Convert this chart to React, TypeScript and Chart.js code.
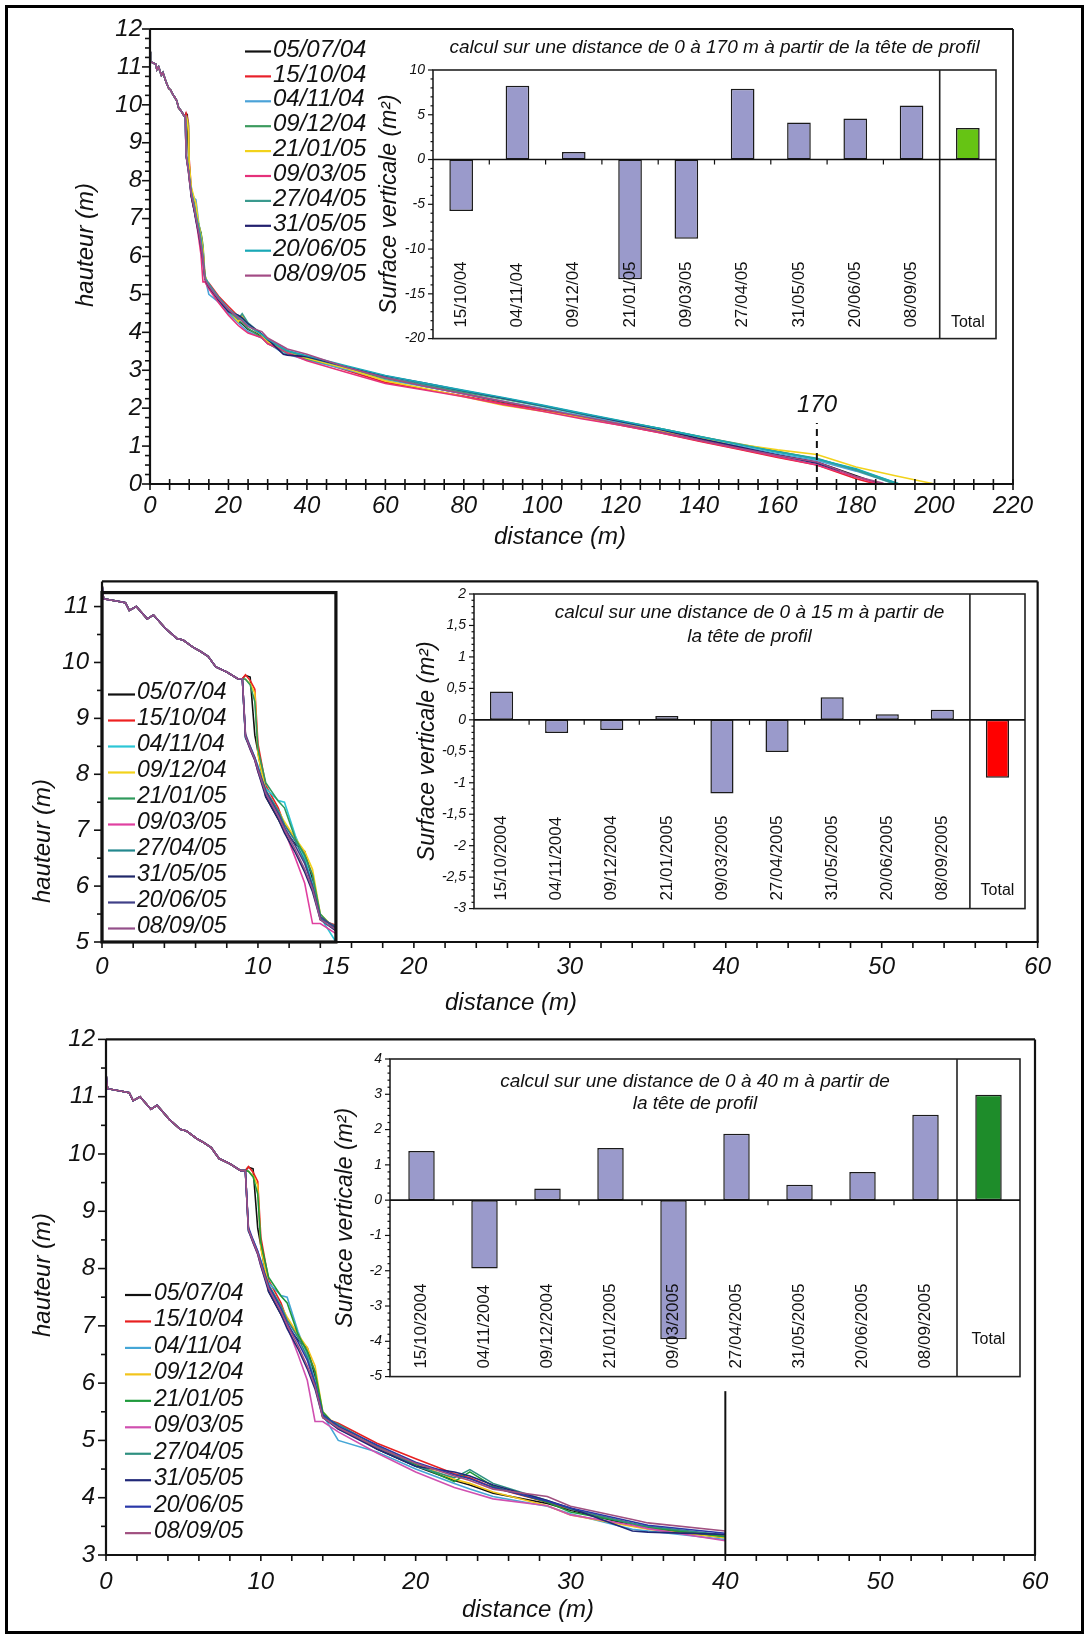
import React, { useEffect, useRef } from 'react';
import { Chart, registerables } from 'chart.js';

Chart.register(...registerables);

const FONT = '"Liberation Sans", Arial, Helvetica, sans-serif';
const INK = '#111111';
Chart.defaults.font.family = FONT;
Chart.defaults.color = INK;

// ======================= DATA =======================
// Beach profiles (distance in m, height in m)
const DATES = ['05/07/04', '15/10/04', '04/11/04', '09/12/04', '21/01/05', '09/03/05', '27/04/05', '31/05/05', '20/06/05', '08/09/05'];

// common head of all profiles (0 - 9 m)
const HEAD_X = [0, 0.1, 1.1, 1.5, 1.75, 2.2, 2.9, 3.3, 4.1, 4.8, 5.2, 5.85, 6.3, 6.8, 7.3, 8.0, 8.7, 9.0];
const HEAD_Y = [11.40, 11.14, 11.09, 11.07, 10.93, 11.00, 10.78, 10.85, 10.60, 10.43, 10.40, 10.27, 10.20, 10.11, 9.92, 9.83, 9.71, 9.71];

// distances at which each survey is read after the head
const GRID_X = [9.2, 9.5, 9.8, 10.0, 10.5, 11.3, 11.7, 12.4, 13.0, 13.5, 14.0, 15, 17.5, 20, 22.5, 23.5, 25, 28.5, 30, 34, 35, 40, 50, 60, 70, 80, 90, 100, 110, 120, 130, 140, 150, 160, 170, 180, 190];

const PROFILE_050704 = [9.77, 9.74, 8.70, 8.40, 7.60, 7.20, 7.00, 6.75, 6.62, 6.10, 5.45, 5.25, 4.85, 4.55, 4.30, 4.22, 4.08, 3.90, 3.78, 3.52, 3.47, 3.30, 3.05, 2.80, 2.58, 2.38, 2.16, 1.98, 1.78, 1.58, 1.38, 1.18, 0.98, 0.78, 0.58, 0.22, null];
const PROFILE_151004 = [9.78, 9.68, 9.52, 8.55, 7.80, 7.40, 7.10, 6.85, 6.55, 6.20, 5.40, 5.30, 4.95, 4.68, 4.42, 4.35, 4.18, 3.92, 3.80, 3.55, 3.48, 3.33, 3.00, 2.68, 2.50, 2.32, 2.12, 1.95, 1.75, 1.55, 1.35, 1.13, 0.92, 0.70, 0.50, 0.14, null];
const PROFILE_041104 = [8.65, 8.50, 8.30, 8.15, 7.75, 7.53, 7.50, 6.90, 6.50, 6.05, 5.45, 5.00, 4.80, 4.50, 4.25, 4.15, 4.02, 3.85, 3.72, 3.45, 3.42, 3.27, 3.02, 2.75, 2.57, 2.38, 2.18, 2.00, 1.80, 1.62, 1.40, 1.20, 1.00, 0.80, 0.62, 0.34, null];
const PROFILE_091204 = [9.70, 9.62, 9.45, 8.35, 7.70, 7.35, 7.15, 6.85, 6.62, 6.30, 5.50, 5.22, 4.90, 4.60, 4.32, 4.25, 4.10, 3.86, 3.70, 3.50, 3.45, 3.30, 3.06, 2.78, 2.60, 2.42, 2.24, 2.05, 1.85, 1.66, 1.46, 1.25, 1.06, 0.86, 0.66, 0.38, null];
const PROFILE_210105 = [9.70, 9.60, 9.30, 8.45, 7.85, 7.52, 7.40, 6.85, 6.55, 6.20, 5.50, 5.20, 4.88, 4.58, 4.28, 4.45, 4.20, 3.92, 3.75, 3.55, 3.48, 3.32, 3.05, 2.72, 2.52, 2.30, 2.08, 1.92, 1.75, 1.58, 1.40, 1.22, 1.05, 0.90, 0.78, 0.45, 0.22];
const PROFILE_090305 = [8.70, 8.45, 8.25, 8.05, 7.65, 7.25, 7.00, 6.50, 6.05, 5.33, 5.33, 5.15, 4.78, 4.45, 4.18, 4.10, 3.98, 3.86, 3.70, 3.52, 3.46, 3.25, 2.95, 2.65, 2.48, 2.30, 2.10, 1.92, 1.72, 1.55, 1.35, 1.14, 0.93, 0.72, 0.50, 0.18, null];
const PROFILE_270405 = [8.68, 8.48, 8.28, 8.10, 7.72, 7.35, 7.10, 6.80, 6.45, 6.00, 5.42, 5.28, 4.90, 4.55, 4.35, 4.49, 4.25, 3.95, 3.80, 3.55, 3.50, 3.35, 3.08, 2.80, 2.62, 2.44, 2.25, 2.06, 1.84, 1.65, 1.46, 1.26, 1.05, 0.85, 0.68, 0.36, null];
const PROFILE_310505 = [8.66, 8.45, 8.25, 8.05, 7.60, 7.20, 6.95, 6.60, 6.25, 5.90, 5.40, 5.20, 4.85, 4.55, 4.45, 4.38, 4.22, 3.95, 3.82, 3.42, 3.40, 3.36, 3.10, 2.85, 2.66, 2.46, 2.27, 2.07, 1.86, 1.65, 1.44, 1.20, 0.98, 0.76, 0.55, null, null];
const PROFILE_200605 = [8.72, 8.50, 8.30, 8.12, 7.70, 7.30, 7.05, 6.72, 6.40, 6.00, 5.45, 5.25, 4.92, 4.62, 4.40, 4.33, 4.18, 3.94, 3.82, 3.58, 3.52, 3.38, 3.12, 2.86, 2.66, 2.47, 2.28, 2.08, 1.87, 1.67, 1.46, 1.25, 1.04, 0.84, 0.66, 0.40, null];
const PROFILE_080905 = [8.68, 8.47, 8.27, 8.08, 7.66, 7.25, 7.02, 6.65, 6.30, 5.95, 5.40, 5.22, 4.88, 4.60, 4.38, 4.30, 4.15, 4.02, 3.85, 3.62, 3.56, 3.42, 3.08, 2.80, 2.58, 2.38, 2.18, 1.98, 1.78, 1.58, 1.38, 1.16, 0.95, 0.75, 0.58, 0.20, null];
const PROFILES = [PROFILE_050704, PROFILE_151004, PROFILE_041104, PROFILE_091204, PROFILE_210105, PROFILE_090305, PROFILE_270405, PROFILE_310505, PROFILE_200605, PROFILE_080905];

// last surveyed point of each profile
const END_X = [186, 185, 190, 191, 200, 186, 190, 176, 191, 187];
const END_Y = [0, 0, 0, 0, 0, 0, 0, 0.34, 0, 0.02];

// line colours of the three legends
const P1_COLORS = ['#111111', '#e8202a', '#4ba3d8', '#3c9a5e', '#f2d21b', '#e5317a', '#3a9a8e', '#22206e', '#19a8b6', '#a34b85'];
const P2_COLORS = ['#111111', '#ee2020', '#2cc6d6', '#f2d21b', '#2f9a5c', '#e040a0', '#23888e', '#20286a', '#404088', '#94508a'];
const P3_COLORS = ['#111111', '#e82020', '#45a6d6', '#f2c41b', '#1f9a3c', '#d050b0', '#2e9080', '#202878', '#2a38a8', '#a05080'];

// vertical surface budgets (m²)
const P1_CATS = ['15/10/04', '04/11/04', '09/12/04', '21/01/05', '09/03/05', '27/04/05', '31/05/05', '20/06/05', '08/09/05', 'Total'];
const P1_VALUES = [-5.75, 8.24, 0.84, -13.37, -8.86, 7.91, 4.14, 4.58, 6.04, 3.52];
const P2_CATS = ['15/10/2004', '04/11/2004', '09/12/2004', '21/01/2005', '09/03/2005', '27/04/2005', '31/05/2005', '20/06/2005', '08/09/2005', 'Total'];
const P2_VALUES = [0.45, -0.21, -0.16, 0.06, -1.17, -0.51, 0.36, 0.09, 0.16, -0.92];
const P3_CATS = ['15/10/2004', '04/11/2004', '09/12/2004', '21/01/2005', '09/03/2005', '27/04/2005', '31/05/2005', '20/06/2005', '08/09/2005', 'Total'];
const P3_VALUES = [1.39, -1.94, 0.33, 1.48, -3.94, 1.88, 0.44, 0.80, 2.42, 2.99];

const P1_TITLE = ['calcul sur une distance de 0 à 170 m à partir de la tête de profil'];
const P2_TITLE = ['calcul sur une distance de 0 à 15 m à partir de', 'la tête de profil'];
const P3_TITLE = ['calcul sur une distance de 0 à 40 m à partir de', 'la tête de profil'];

const P2_X_LABELS = [0, 10, 15, 20, 30, 40, 50, 60];

const BAR_COLOR = '#9a9acb';

// ======================= HELPERS =======================
function profilePoints(i: number, maxX: number) {
  const pts: { x: number; y: number }[] = [];
  HEAD_X.forEach((x, k) => pts.push({ x, y: HEAD_Y[k] }));
  GRID_X.forEach((x, k) => {
    const y = PROFILES[i][k];
    if (y !== null) pts.push({ x, y: y as number });
  });
  pts.push({ x: END_X[i], y: END_Y[i] });
  return pts.filter((p) => p.x <= maxX + 1e-9);
}

function seg(ctx: CanvasRenderingContext2D, x0: number, y0: number, x1: number, y1: number) {
  ctx.beginPath();
  ctx.moveTo(x0, y0);
  ctx.lineTo(x1, y1);
  ctx.stroke();
}

function makeLineDecor(p: any) {
  return {
    id: 'lineDecor',
    afterDraw(chart: any) {
      const { ctx, chartArea: a } = chart;
      const xs = chart.scales.x;
      const ys = chart.scales.y;
      const ox = p.canvas.left;
      const oy = p.canvas.top;
      ctx.save();
      ctx.strokeStyle = INK;
      ctx.fillStyle = INK;
      ctx.setLineDash([]);
      // frame (top / right)
      ctx.lineWidth = p.frameW;
      seg(ctx, a.left, a.top, a.right, a.top);
      seg(ctx, a.right, a.top, a.right, a.bottom);
      // axes
      ctx.lineWidth = 2.2;
      seg(ctx, a.left, a.top, a.left, a.bottom + 1);
      seg(ctx, a.left - 1, a.bottom, a.right + 1, a.bottom);
      // y ticks
      ctx.lineWidth = 1.6;
      const nY = Math.round((Math.floor(ys.max) - ys.min) / p.yMinor);
      for (let k = 0; k <= nY; k++) {
        const v = ys.min + k * p.yMinor;
        const py = ys.getPixelForValue(v);
        const major = Math.abs(v - Math.round(v)) < 1e-6;
        seg(ctx, a.left - (major ? 8 : 5), py, a.left, py);
      }
      // x ticks
      const nX = Math.round((xs.max - xs.min) / p.xTickStep);
      for (let k = 0; k <= nX; k++) {
        const px = xs.getPixelForValue(xs.min + k * p.xTickStep);
        seg(ctx, px, a.bottom - (p.xCross ? 5 : 0), px, a.bottom + 6);
      }
      // thick zoom box
      if (p.box) {
        ctx.lineWidth = 3.2;
        const x0 = xs.getPixelForValue(p.box.x0);
        const x1 = xs.getPixelForValue(p.box.x1);
        const y0 = ys.getPixelForValue(p.box.y0);
        const y1 = ys.getPixelForValue(p.box.y1);
        ctx.strokeRect(x0, y1, x1 - x0, y0 - y1);
      }
      // vertical marker
      if (p.vline) {
        ctx.lineWidth = 2;
        ctx.setLineDash(p.vline.dash);
        const px = xs.getPixelForValue(p.vline.x);
        seg(ctx, px, ys.getPixelForValue(p.vline.y0), px, ys.getPixelForValue(p.vline.y1));
        ctx.setLineDash([]);
        if (p.vline.label) {
          ctx.font = `italic 24px ${FONT}`;
          ctx.textAlign = 'center';
          ctx.textBaseline = 'middle';
          ctx.fillText(p.vline.label, p.vline.lx - ox, p.vline.ly - oy);
        }
      }
      // legend
      const L = p.legend;
      ctx.font = `italic ${L.size}px ${FONT}`;
      ctx.textAlign = 'left';
      ctx.textBaseline = 'middle';
      chart.data.datasets.forEach((ds: any, i: number) => {
        const yy = L.y + i * L.dy - oy;
        ctx.strokeStyle = ds.borderColor;
        ctx.lineWidth = 2.2;
        seg(ctx, L.x0 - ox, yy + 1.5, L.x1 - ox, yy + 1.5);
        ctx.fillStyle = INK;
        ctx.fillText(ds.label, L.tx - ox, yy);
      });
      // axis titles
      ctx.fillStyle = INK;
      ctx.font = `italic 24px ${FONT}`;
      ctx.textAlign = 'center';
      ctx.textBaseline = 'middle';
      ctx.fillText(p.xTitle.text, p.xTitle.x - ox, p.xTitle.y - oy);
      ctx.save();
      ctx.translate(p.yTitle.x - ox, p.yTitle.y - oy);
      ctx.rotate(-Math.PI / 2);
      ctx.fillText(p.yTitle.text, 0, 0);
      ctx.restore();
      ctx.restore();
    },
  };
}

function lineConfig(p: any): any {
  const tickFont = { family: FONT, size: 24, style: 'italic' as const };
  return {
    type: 'line',
    data: {
      datasets: DATES.map((d, i) => ({
        label: d,
        data: profilePoints(i, p.clipX),
        borderColor: p.colors[i],
        backgroundColor: p.colors[i],
        borderWidth: 1.6,
        pointRadius: 0,
        tension: 0,
        fill: false,
        order: DATES.length - 1 - i,
      })),
    },
    options: {
      responsive: false,
      animation: false,
      events: [],
      layout: { padding: p.padding },
      plugins: { legend: { display: false }, tooltip: { enabled: false }, title: { display: false } },
      scales: {
        x: {
          type: 'linear',
          min: p.xMin,
          max: p.xMax,
          grid: { display: false, drawTicks: true, tickLength: 6 },
          border: { display: false },
          ticks: {
            stepSize: p.xStep,
            autoSkip: false,
            maxRotation: 0,
            padding: p.xTickPad,
            color: INK,
            font: tickFont,
            callback: (v: number) => {
              if (!p.xLabels) return String(v);
              return p.xLabels.some((l: number) => Math.abs(l - v) < 1e-6) ? String(v) : '';
            },
          },
          afterFit: (s: any) => {
            s.height = p.xAxisH;
          },
        },
        y: {
          type: 'linear',
          min: p.yMin,
          max: p.yMax,
          grid: { display: false, drawTicks: true, tickLength: 6 },
          border: { display: false },
          ticks: {
            stepSize: 1,
            autoSkip: false,
            includeBounds: false,
            padding: p.yTickPad,
            color: INK,
            font: tickFont,
            callback: (v: number) => (Math.abs(v - Math.round(v)) < 1e-6 ? String(Math.round(v)) : ''),
          },
          afterFit: (s: any) => {
            s.width = p.yAxisW;
          },
        },
      },
    },
    plugins: [makeLineDecor(p)],
  };
}

function makeInsetDecor(p: any) {
  return {
    id: 'insetDecor',
    afterDraw(chart: any) {
      const { ctx, chartArea: a } = chart;
      const xs = chart.scales.x;
      const ys = chart.scales.y;
      const n = p.cats.length;
      const cw = (a.right - a.left) / n;
      ctx.save();
      ctx.strokeStyle = '#222222';
      ctx.fillStyle = INK;
      ctx.lineWidth = 1.6;
      ctx.strokeRect(a.left, a.top, a.right - a.left, a.bottom - a.top);
      const dx = a.left + cw * (n - 1);
      seg(ctx, dx, a.top, dx, a.bottom);
      const z = ys.getPixelForValue(0);
      ctx.strokeStyle = INK;
      ctx.lineWidth = 1.6;
      seg(ctx, a.left, z, a.right, z);
      ctx.lineWidth = 1.2;
      for (let k = 1; k < n - 1; k++) {
        const bx = a.left + cw * k;
        seg(ctx, bx, z, bx, z + 5);
      }
      // y ticks
      const nMaj = Math.round((p.yMax - p.yMin) / p.yStep);
      for (let k = 0; k <= nMaj * 5; k++) {
        const v = p.yMin + (k * p.yStep) / 5;
        const py = ys.getPixelForValue(v);
        seg(ctx, a.left - (k % 5 === 0 ? 5 : 2.5), py, a.left, py);
      }
      // category labels
      ctx.fillStyle = INK;
      ctx.font = `17px ${FONT}`;
      for (let i = 0; i < n - 1; i++) {
        const cx = xs.getPixelForValue(i);
        ctx.save();
        ctx.translate(cx, a.bottom - p.labelPad);
        ctx.rotate(-Math.PI / 2);
        ctx.textAlign = 'left';
        ctx.textBaseline = 'middle';
        ctx.fillText(p.cats[i], 0, 0);
        ctx.restore();
      }
      ctx.font = `16px ${FONT}`;
      ctx.textAlign = 'center';
      ctx.textBaseline = 'middle';
      ctx.fillText(p.cats[n - 1], xs.getPixelForValue(n - 1), a.bottom + p.totalDy);
      // title
      ctx.font = `italic 19px ${FONT}`;
      p.title.forEach((t: string, k: number) => {
        ctx.fillText(t, (a.left + a.right) / 2 + p.titleDx, a.top + p.titleDy[k]);
      });
      ctx.restore();
    },
  };
}

function insetConfig(p: any): any {
  return {
    type: 'bar',
    data: {
      labels: p.cats,
      datasets: [
        {
          data: p.values,
          backgroundColor: p.values.map((_: number, i: number) => (i === p.values.length - 1 ? p.totalColor : BAR_COLOR)),
          borderColor: '#1a1a1a',
          borderWidth: 1.5,
          borderSkipped: false,
          categoryPercentage: 1,
          barPercentage: 0.42,
        },
      ],
    },
    options: {
      responsive: false,
      animation: false,
      events: [],
      layout: { padding: p.padding },
      plugins: { legend: { display: false }, tooltip: { enabled: false }, title: { display: false } },
      scales: {
        x: { display: false },
        y: {
          min: p.yMin,
          max: p.yMax,
          grid: { display: false, drawTicks: true, tickLength: 5 },
          border: { display: false },
          ticks: {
            stepSize: p.yStep,
            autoSkip: false,
            padding: 3,
            color: INK,
            font: { family: FONT, size: 14, style: 'italic' },
            callback: (v: number) => String(Math.round(v * 100) / 100).replace('.', ','),
          },
          title: {
            display: true,
            text: 'Surface verticale (m²)',
            color: INK,
            font: { family: FONT, size: 23, style: 'italic' },
            padding: { top: 4, bottom: 0 },
          },
          afterFit: (s: any) => {
            s.width = p.yAxisW;
          },
        },
      },
    },
    plugins: [makeInsetDecor(p)],
  };
}

// ======================= PANELS =======================
const P1_LINE = {
  canvas: { left: 10, top: 8, width: 1066, height: 547 },
  padding: { left: 0, top: 21, right: 63, bottom: 0 },
  yAxisW: 140, xAxisH: 71,
  xMin: 0, xMax: 220, xStep: 20, xLabels: null, xTickStep: 5, xCross: true, xTickPad: 2,
  yMin: 0, yMax: 12, yMinor: 0.25, yTickPad: 2,
  clipX: 1000, colors: P1_COLORS, frameW: 1.8,
  vline: { x: 170, y0: 0, y1: 1.61, dash: [7, 5], label: '170', lx: 817, ly: 405 },
  legend: { x0: 245, x1: 271, tx: 273, y: 50, dy: 24.9, size: 24 },
  xTitle: { text: 'distance (m)', x: 560, y: 537 },
  yTitle: { text: 'hauteur (m)', x: 86, y: 245 },
};

const P2_LINE = {
  canvas: { left: 10, top: 560, width: 1046, height: 470 },
  padding: { left: 0, top: 7, right: 18, bottom: 0 },
  yAxisW: 92, xAxisH: 88,
  xMin: 0, xMax: 60, xStep: 5, xLabels: P2_X_LABELS, xTickStep: 2, xCross: false, xTickPad: 5,
  yMin: 5, yMax: 11.45, yMinor: 0.5, yTickPad: 7,
  clipX: 15, colors: P2_COLORS, frameW: 2.2,
  box: { x0: 0, x1: 15, y0: 5, y1: 11.25 },
  legend: { x0: 108, x1: 135, tx: 137, y: 693, dy: 26, size: 23 },
  xTitle: { text: 'distance (m)', x: 511, y: 1003 },
  yTitle: { text: 'hauteur (m)', x: 43, y: 841 },
};

const P3_LINE = {
  canvas: { left: 10, top: 1020, width: 1046, height: 608 },
  padding: { left: 0, top: 16, right: 21, bottom: 0 },
  yAxisW: 96, xAxisH: 73,
  xMin: 0, xMax: 60, xStep: 10, xLabels: null, xTickStep: 2, xCross: false, xTickPad: 7,
  yMin: 3, yMax: 12, yMinor: 0.5, yTickPad: 5,
  clipX: 40, colors: P3_COLORS, frameW: 2.2,
  vline: { x: 40, y0: 3, y1: 5.86, dash: [] },
  legend: { x0: 125, x1: 151, tx: 154, y: 1293.5, dy: 26.46, size: 23 },
  xTitle: { text: 'distance (m)', x: 528, y: 1610 },
  yTitle: { text: 'hauteur (m)', x: 43, y: 1275 },
};

const I1 = {
  canvas: { left: 372, top: 28, width: 632, height: 322 },
  padding: { left: 0, top: 42, right: 8, bottom: 8 },
  yAxisW: 61, yMin: -20, yMax: 10, yStep: 5,
  cats: P1_CATS, values: P1_VALUES, totalColor: '#66c414',
  labelPad: 11, totalDy: -16, title: P1_TITLE, titleDy: [-22], titleDx: 0,
};

const I2 = {
  canvas: { left: 410, top: 570, width: 621, height: 350 },
  padding: { left: 0, top: 24, right: 6, bottom: 10 },
  yAxisW: 64, yMin: -3, yMax: 2, yStep: 0.5,
  cats: P2_CATS, values: P2_VALUES, totalColor: '#ff0000',
  labelPad: 8, totalDy: -18, title: P2_TITLE, titleDy: [19, 43], titleDx: 0,
};

const I3 = {
  canvas: { left: 328, top: 1040, width: 698, height: 348 },
  padding: { left: 0, top: 19, right: 6, bottom: 10 },
  yAxisW: 62, yMin: -5, yMax: 4, yStep: 1,
  cats: P3_CATS, values: P3_VALUES, totalColor: '#1e8c2a',
  labelPad: 8, totalDy: -37, title: P3_TITLE, titleDy: [23, 45], titleDx: -10,
};

// ======================= COMPONENTS =======================
function ChartCanvas({ box, make }: { box: any; make: () => any }) {
  const ref = useRef<HTMLCanvasElement>(null);
  useEffect(() => {
    const chart = new Chart(ref.current as HTMLCanvasElement, make());
    return () => chart.destroy();
  }, []);
  return (
    <canvas
      ref={ref}
      width={box.width}
      height={box.height}
      style={{ position: 'absolute', left: box.left, top: box.top, width: box.width, height: box.height }}
    />
  );
}

export default function App() {
  return (
    <div style={{ position: 'relative', width: 1086, height: 1636, background: '#ffffff', overflow: 'hidden' }}>
      <style>{'body{margin:0;background:#fff;}'}</style>
      <div
        style={{
          position: 'absolute', left: 5, top: 5, width: 1079, height: 1629,
          border: '3px solid #000', boxSizing: 'border-box',
        }}
      />
      <ChartCanvas box={P1_LINE.canvas} make={() => lineConfig(P1_LINE)} />
      <ChartCanvas box={I1.canvas} make={() => insetConfig(I1)} />
      <ChartCanvas box={P2_LINE.canvas} make={() => lineConfig(P2_LINE)} />
      <ChartCanvas box={I2.canvas} make={() => insetConfig(I2)} />
      <ChartCanvas box={P3_LINE.canvas} make={() => lineConfig(P3_LINE)} />
      <ChartCanvas box={I3.canvas} make={() => insetConfig(I3)} />
    </div>
  );
}
